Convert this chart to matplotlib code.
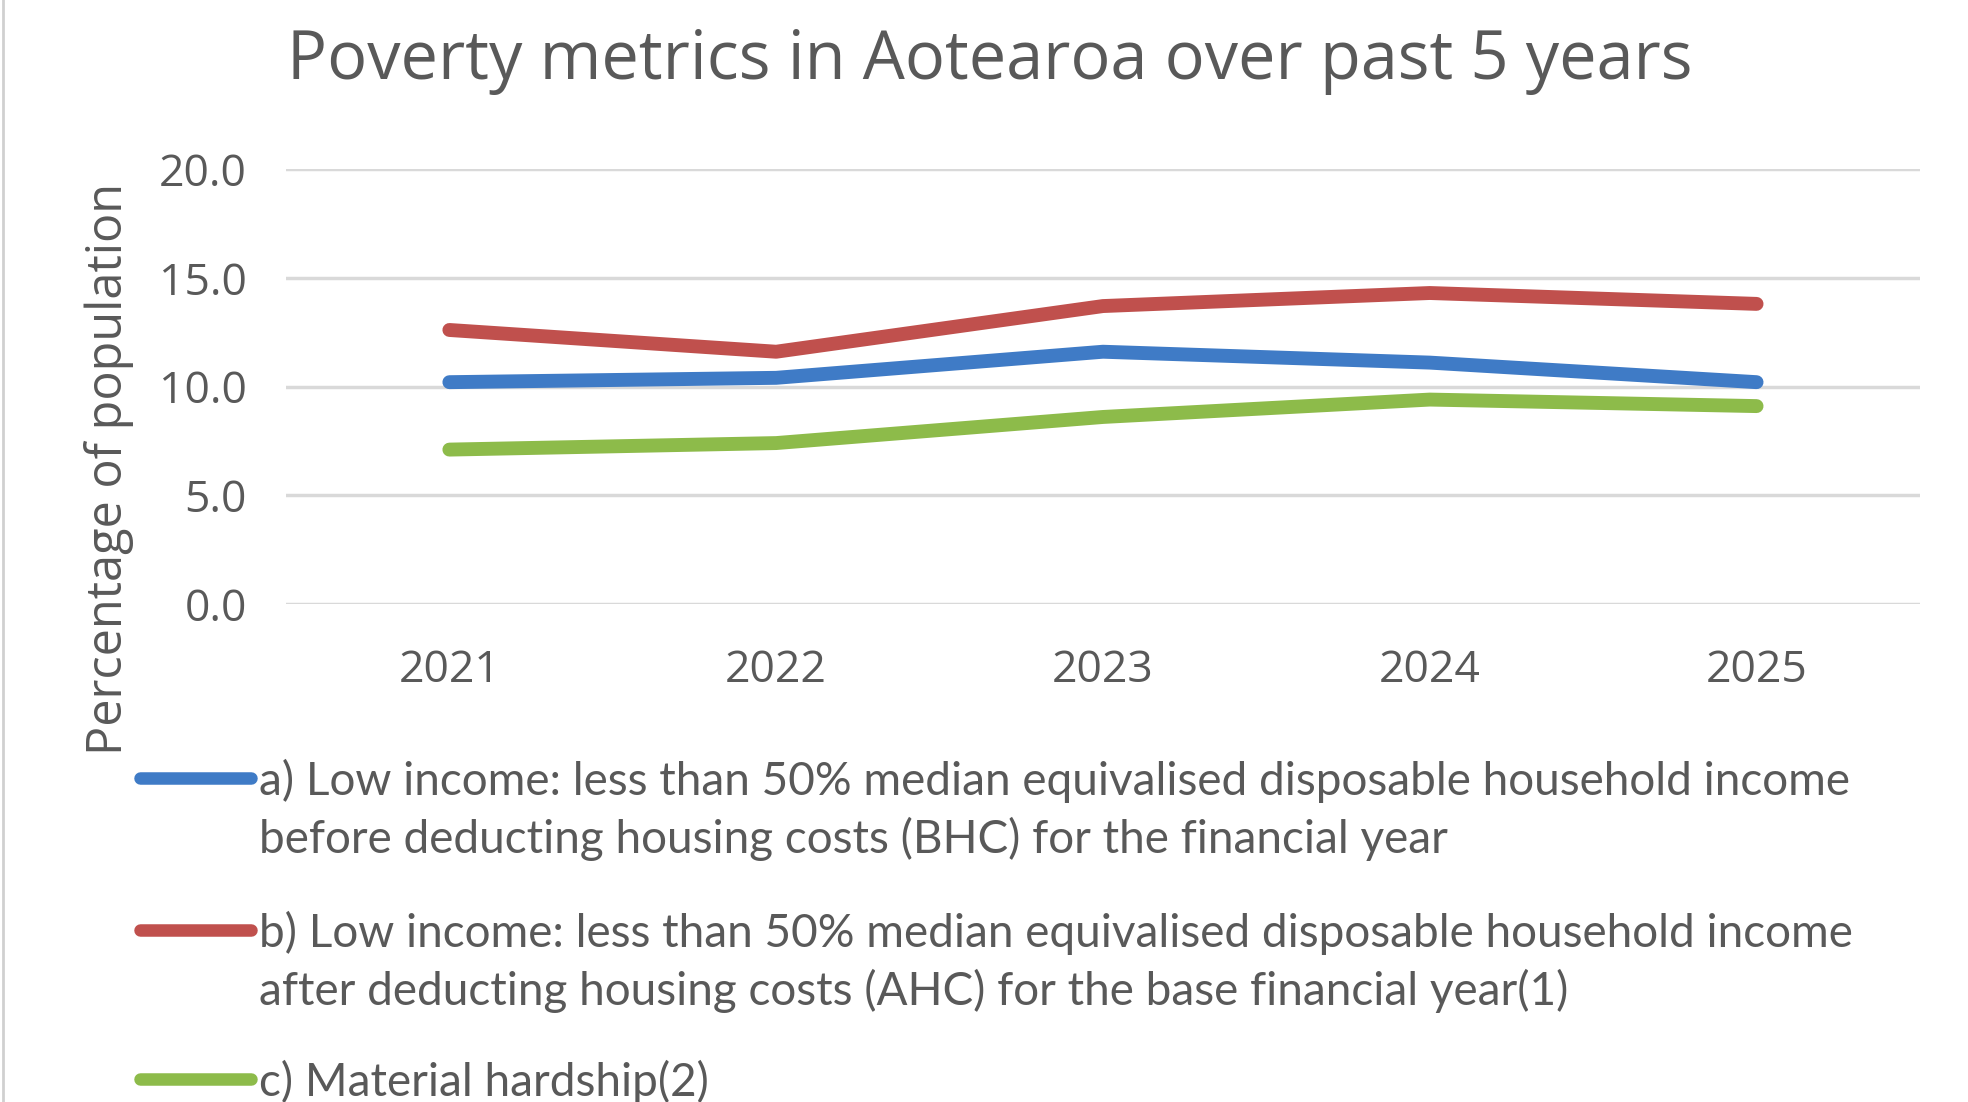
import matplotlib
matplotlib.use("Agg")
import matplotlib.pyplot as plt
from matplotlib.lines import Line2D

# data
years = ["2021", "2022", "2023", "2024", "2025"]
low_income_bhc = [10.2, 10.4, 11.6, 11.1, 10.2]
low_income_ahc = [12.6, 11.6, 13.7, 14.3, 13.8]
material_hardship = [7.1, 7.4, 8.6, 9.4, 9.1]

series_labels = [
    "a) Low income: less than 50% median equivalised disposable household income\n"
    "before deducting housing costs (BHC) for the financial year",
    "b) Low income: less than 50% median equivalised disposable household income\n"
    "after deducting housing costs (AHC) for the base financial year(1)",
    "c) Material hardship(2)",
]
y_ticks = [0, 5, 10, 15, 20]

colors = ["#3F7BC6", "#C0504D", "#8DBB4A"]
text_color = "#595959"


def main():
    fig = plt.figure(figsize=(19.68, 11.02), dpi=100)
    fig.patch.set_facecolor("white")
    ax = fig.add_axes([0.1453, 0.4519, 0.8303, 0.3947])

    x = range(len(years))
    for vals, color in zip([low_income_bhc, low_income_ahc, material_hardship], colors):
        ax.plot(x, vals, color=color, linewidth=10, solid_capstyle="round",
                solid_joinstyle="round", zorder=3)

    # axes styling like an excel chart
    ax.set_xlim(-0.5, len(years) - 0.5)
    ax.set_ylim(0, 20)
    ax.set_yticks(y_ticks)
    ax.set_yticklabels([f"{v:.1f}" for v in y_ticks])
    ax.set_xticks(list(x))
    ax.set_xticklabels(years)
    ax.grid(axis="y", color="#D9D9D9", linewidth=2.5)
    ax.set_axisbelow(True)
    for s in ax.spines.values():
        s.set_visible(False)
    ax.tick_params(length=0, labelsize=32, colors=text_color, labelfontfamily="Open Sans")
    ax.tick_params(axis="y", pad=28)
    ax.tick_params(axis="x", pad=32)

    ax.set_ylabel("Percentage of population", fontsize=35, color=text_color,
                  family="Open Sans")
    ax.yaxis.set_label_coords(-0.093, 0.31)

    fig.text(0.503, 0.944, "Poverty metrics in Aotearoa over past 5 years",
             ha="center", va="center", fontsize=48, color=text_color, family="Open Sans")

    # legend drawn by hand so the swatch sits on the first text line
    legend_y = [778, 930, 1079]
    for label, color, ly in zip(series_labels, colors, legend_y):
        yf = 1 - ly / 1102
        fig.add_artist(Line2D([140 / 1968, 251 / 1968], [yf, yf], color=color,
                              linewidth=9, solid_capstyle="round",
                              transform=fig.transFigure))
        fig.text(259 / 1968, yf + 0.017, label, ha="left", va="top", fontsize=33,
                 color=text_color, family="Lato", linespacing=1.36)

    # thin grey frame line at the left edge
    fig.add_artist(Line2D([0.0015, 0.0015], [0, 1], color="#D0D0D0", linewidth=2,
                          transform=fig.transFigure))

    fig.savefig("out.png", dpi=100, facecolor="white")


if __name__ == "__main__":
    main()
